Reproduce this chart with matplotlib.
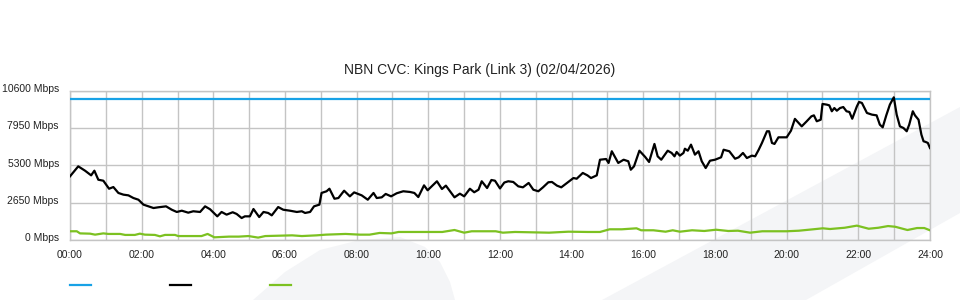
"""NBN CVC link utilisation for one day: capacity, traffic and upload."""

import matplotlib
matplotlib.use("Agg")
import matplotlib.pyplot as plt
import matplotlib.transforms as mtransforms
from matplotlib.lines import Line2D
from matplotlib.patches import Polygon

TITLE = "NBN CVC: Kings Park (Link 3) (02/04/2026)"

# capacity of the link (flat line)
cap_hours = [0, 24]
cap_mbps = [10000, 10000]

# main traffic series (hours, Mbps)
traffic_hours = [
    0.00, 0.23, 0.42, 0.59, 0.68, 0.79, 0.93, 1.09, 1.21, 1.35, 1.49, 1.63, 1.77, 1.91,
    2.05, 2.19, 2.33, 2.46, 2.68, 2.84, 2.98, 3.12, 3.30, 3.44, 3.63, 3.77, 3.91, 4.11,
    4.23, 4.37, 4.54, 4.65, 4.79, 4.88, 5.02, 5.12, 5.28, 5.40, 5.53, 5.63, 5.81, 5.95,
    6.14, 6.33, 6.47, 6.56, 6.70, 6.81, 6.96, 7.02, 7.16, 7.24, 7.38, 7.49, 7.65, 7.81,
    7.93, 8.14, 8.31, 8.47, 8.56, 8.70, 8.81, 8.96, 9.12, 9.30, 9.49, 9.61, 9.72, 9.88,
    9.98, 10.24, 10.38, 10.49, 10.73, 10.88, 11.00, 11.16, 11.28, 11.40, 11.49, 11.64,
    11.76, 11.86, 12.00, 12.12, 12.23, 12.37, 12.51, 12.64, 12.80, 12.93, 13.07, 13.20,
    13.35, 13.45, 13.59, 13.71, 13.87, 14.05, 14.14, 14.31, 14.44, 14.54, 14.70, 14.79,
    14.96, 15.03, 15.12, 15.30, 15.45, 15.58, 15.65, 15.74, 15.89, 16.05, 16.16, 16.31,
    16.40, 16.50, 16.68, 16.79, 16.87, 16.93, 17.02, 17.12, 17.16, 17.24, 17.33, 17.44,
    17.54, 17.63, 17.74, 17.86, 18.00, 18.17, 18.24, 18.40, 18.56, 18.66, 18.78, 18.89,
    19.03, 19.12, 19.22, 19.31, 19.45, 19.51, 19.59, 19.66, 19.77, 19.91, 20.00, 20.12,
    20.23, 20.42, 20.56, 20.69, 20.76, 20.84, 20.95, 21.00, 21.12, 21.19, 21.26, 21.33,
    21.40, 21.49, 21.58, 21.67, 21.75, 21.83, 21.96, 22.02, 22.10, 22.24, 22.38, 22.51,
    22.60, 22.68, 22.78, 22.88, 22.99, 23.07, 23.16, 23.26, 23.35, 23.42, 23.52, 23.58,
    23.68, 23.76, 23.82, 23.88, 23.94, 24.00,
]
traffic_mbps = [
    4520, 5230, 4920, 4590, 4920, 4280, 4210, 3640, 3760, 3340, 3220, 3170, 2980, 2860,
    2510, 2390, 2270, 2320, 2390, 2150, 1990, 2080, 1940, 2040, 1990, 2390, 2180, 1680,
    1990, 1800, 1970, 1850, 1560, 1680, 1680, 2200, 1630, 1990, 1920, 1750, 2340, 2150,
    2080, 1990, 2040, 1920, 1990, 2390, 2510, 3340, 3460, 3640, 2930, 2980, 3500, 3100,
    3380, 3170, 2860, 3340, 2980, 3030, 3270, 3100, 3320, 3460, 3410, 3340, 3050, 3880,
    3530, 4170, 3620, 3860, 3030, 3290, 3100, 3640, 3390, 3570, 4170, 3690,
    4260, 4210, 3660, 4080, 4170, 4120, 3810, 3740, 4050, 3570, 3460, 3740,
    4100, 4120, 3860, 3740, 4050, 4400, 4350, 4760, 4590, 4400, 4590, 5700,
    5750, 5470, 6300, 5470, 5700, 5590, 4990, 5230, 6340, 5900, 5540, 6820,
    5940, 5700, 6340, 6180, 5940, 6250, 5990, 6180, 6480, 6340, 6770, 6060,
    6300, 5590, 5110, 5630, 5700, 5870, 6410, 6300, 5770, 5870, 6180, 5820,
    5990, 5940, 6410, 6890, 7720, 7720, 6890, 6820, 7290, 7290, 7290, 7760,
    8600, 8070, 8430, 8780, 8850, 8430, 8540, 9660, 9610, 9560, 9140, 9370,
    9180, 9370, 9440, 9140, 9090, 8610, 9490, 9800, 9730, 9020, 8900, 8850,
    8190, 8000, 8850, 9610, 10130, 8900, 8070, 7950, 7720, 8190, 9140, 8850,
    8540, 7480, 7010, 6960, 6890, 6530,
]

# second (upload) series
upload_hours = [
    0.00, 0.19, 0.28, 0.56, 0.70, 0.93, 1.07, 1.40, 1.54, 1.81, 1.95, 2.09, 2.37, 2.51,
    2.65, 2.93, 3.02, 3.67, 3.84, 4.03, 4.44, 4.71, 4.98, 5.25, 5.45, 6.20, 6.47, 6.88,
    7.14, 7.69, 8.09, 8.36, 8.64, 8.97, 9.17, 10.39, 10.73, 11.00, 11.21, 11.88, 12.08,
    12.42, 13.37, 13.91, 14.45, 14.79, 15.06, 15.40, 15.81, 15.94, 16.28, 16.62, 16.82,
    17.02, 17.36, 17.70, 18.03, 18.37, 18.64, 18.98, 19.32, 19.66, 20.00, 20.34, 20.74,
    21.01, 21.21, 21.62, 21.96, 22.29, 22.56, 22.83, 23.03, 23.37, 23.64, 23.84, 24.00,
]
upload_mbps = [
    620, 620, 470, 450, 380, 470, 430, 430, 360, 360, 450, 380, 360, 260,
    360, 360, 280, 280, 430, 190, 240, 240, 280, 170, 280, 330, 280, 330,
    380, 430, 380, 380, 500, 470, 570, 570, 710, 520, 620, 620, 520,
    570, 520, 590, 570, 570, 760, 760, 830, 690, 690, 590, 690,
    590, 690, 640, 730, 640, 660, 520, 620, 620, 620, 660, 760,
    830, 780, 870, 1020, 800, 870, 990, 940, 710, 850, 850, 690,
]

y_ticks = [0, 2650, 5300, 7950, 10600]
x_ticks = list(range(0, 25, 2))
x_labels = [f"{h:02d}:00" for h in x_ticks]

BLUE = "#18a2e6"
GREEN = "#7cc121"
GRID = "#c4c4c4"
TEXT = "#222222"
SWOOSH = "#f4f5f7"

W, H = 960, 300
fig = plt.figure(figsize=(W / 100, H / 100), dpi=100)
fig.patch.set_facecolor("white")

# faint background decoration (pixel coords, y down)
def px_poly(pts):
    return Polygon([(x / W, 1 - y / H) for x, y in pts], closed=True,
                   transform=fig.transFigure, facecolor=SWOOSH,
                   edgecolor="none", zorder=-10)

fig.patches.append(px_poly([(253, 300), (285, 272), (320, 250), (360, 240),
                            (400, 237), (425, 247), (440, 262), (450, 282),
                            (455, 300)]))
fig.patches.append(px_poly([(602, 300), (960, 107), (960, 213), (806, 300)]))

ax = fig.add_axes([70 / W, 60 / H, 860 / W, 149.3 / H])
ax.set_facecolor("none")
ax.set_zorder(1)

ax.plot(cap_hours, cap_mbps, color=BLUE, lw=1.6, zorder=3)
ax.plot(upload_hours, upload_mbps, color=GREEN, lw=1.6, zorder=3)
ax.plot(traffic_hours, traffic_mbps, color="black", lw=1.6, zorder=4)

ax.set_xlim(0, 24)
ax.set_ylim(0, 10600)
ax.set_xticks(x_ticks)
ax.set_xticklabels(x_labels)
ax.set_xticks(range(0, 25), minor=True)
ax.set_yticks(y_ticks)
ax.set_yticklabels([f"{v} Mbps" for v in y_ticks])

ax.grid(which="both", axis="x", color=GRID, lw=1.0)
ax.grid(which="major", axis="y", color=GRID, lw=1.0)
ax.set_axisbelow(True)
for s in ax.spines.values():
    s.set_color(GRID)
    s.set_linewidth(1.0)

ax.tick_params(which="both", length=0)
ax.tick_params(axis="x", pad=7, labelsize=7.5, labelcolor=TEXT)
ax.tick_params(axis="y", pad=8, labelsize=7.5, labelcolor=TEXT)
for lab in ax.get_xticklabels() + ax.get_yticklabels():
    lab.set_family("Liberation Sans")
shift = mtransforms.ScaledTranslation(0, 2 / 72, fig.dpi_scale_trans)
for lab in ax.get_yticklabels():
    lab.set_transform(lab.get_transform() + shift)

fig.text(0.5, 1 - 70 / H, TITLE, ha="center", va="center", fontsize=10,
         color=TEXT, family="Liberation Sans")

# legend swatches without text
for x0, c in [(70, BLUE), (170, "black"), (270, GREEN)]:
    fig.add_artist(Line2D([x0 / W, (x0 + 21) / W], [1 - 285 / H] * 2,
                          color=c, lw=1.6, transform=fig.transFigure))

fig.savefig("out.png", dpi=100)
